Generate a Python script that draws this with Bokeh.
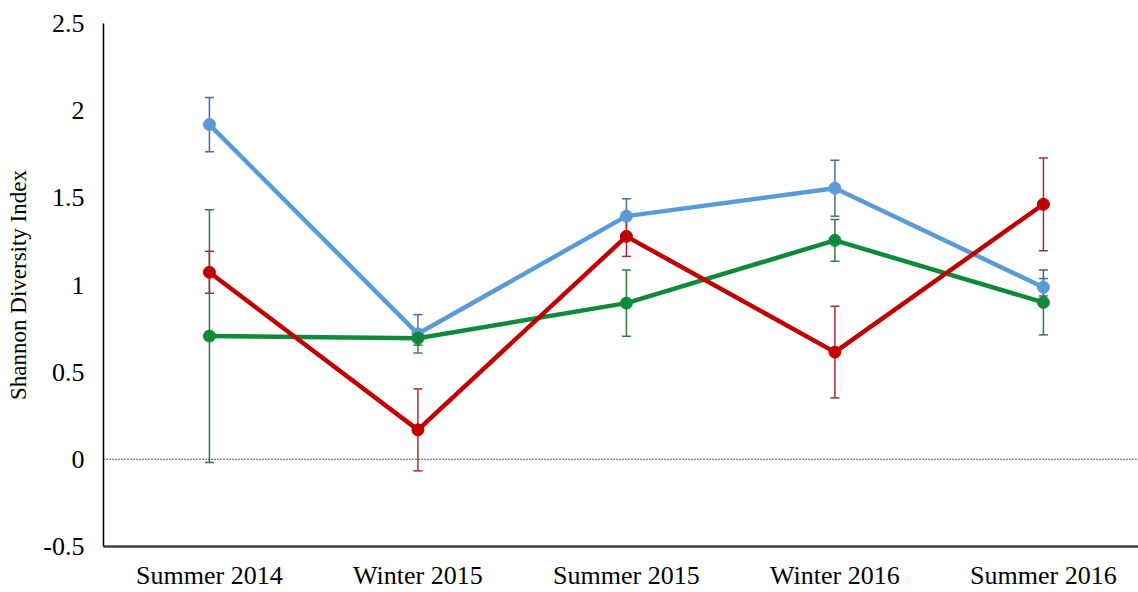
from bokeh.plotting import figure
from bokeh.models import Range1d, FixedTicker, Span, Whisker, ColumnDataSource, TeeHead
from bokeh.embed import file_html
from bokeh.resources import INLINE

categories = ["Summer 2014", "Winter 2015", "Summer 2015", "Winter 2016", "Summer 2016"]
blue_vals = [1.92, 0.72, 1.395, 1.555, 0.987]
blue_err = [0.155, 0.11, 0.10, 0.16, 0.05]
green_vals = [0.707, 0.695, 0.896, 1.256, 0.90]
green_err = [0.725, 0.04, 0.19, 0.12, 0.186]
red_vals = [1.073, 0.169, 1.279, 0.615, 1.463]
red_err = [0.12, 0.235, 0.115, 0.263, 0.266]
y_ticks = [-0.5, 0, 0.5, 1, 1.5, 2, 2.5]

series = [
    (blue_vals, blue_err, "#5B9BD5", "#41719C"),
    (green_vals, green_err, "#0E8A3A", "#2E7D4A"),
    (red_vals, red_err, "#C00000", "#B02A35"),
]

xs = list(range(len(categories)))

p = figure(width=1138, height=592, output_backend="svg", toolbar_location=None,
           x_range=Range1d(-0.508, 4.456), y_range=Range1d(-0.5, 2.5))
p.min_border_left = 103
p.min_border_right = 0
p.min_border_top = 23
p.min_border_bottom = 45
p.outline_line_color = None
p.grid.visible = False
p.background_fill_color = "white"
p.border_fill_color = "white"

font = "Liberation Serif"

p.xaxis.ticker = FixedTicker(ticks=xs)
p.xaxis.major_label_overrides = {i: c for i, c in enumerate(categories)}
p.yaxis.ticker = FixedTicker(ticks=y_ticks)
p.yaxis.major_label_overrides = {t: ("%g" % t) for t in y_ticks}

for ax in (p.xaxis, p.yaxis):
    ax.major_tick_line_color = None
    ax.minor_tick_line_color = None
    ax.major_tick_in = 0
    ax.major_tick_out = 0
    ax.major_label_text_font = font
    ax.major_label_text_font_size = "26px"
    ax.major_label_text_color = "#000000"

p.xaxis.axis_line_color = "#404040"
p.xaxis.axis_line_width = 2.5
p.xaxis.major_label_standoff = 14
p.yaxis.axis_line_color = "#000000"
p.yaxis.axis_line_width = 1.5
p.yaxis.major_label_standoff = 19
p.yaxis.axis_label = "Shannon Diversity Index"
p.yaxis.axis_label_text_font = font
p.yaxis.axis_label_text_font_style = "normal"
p.yaxis.axis_label_text_font_size = "23px"
p.yaxis.axis_label_text_color = "#000000"
p.yaxis.axis_label_standoff = 9

p.add_layout(Span(location=0, dimension="width", line_color="black",
                  line_width=1.2, line_dash="1 2"))

for vals, errs, col, ecol in series:
    src = ColumnDataSource(dict(x=xs, y=vals,
                                lo=[v - e for v, e in zip(vals, errs)],
                                hi=[v + e for v, e in zip(vals, errs)]))
    w = Whisker(base="x", lower="lo", upper="hi", source=src,
                line_color=ecol, line_width=1.5,
                upper_head=TeeHead(size=9, line_color=ecol, line_width=1.5),
                lower_head=TeeHead(size=9, line_color=ecol, line_width=1.5))
    p.add_layout(w)

for vals, errs, col, ecol in series:
    src = ColumnDataSource(dict(x=xs, y=vals))
    p.line("x", "y", source=src, line_color=col, line_width=4.5)
    p.scatter("x", "y", source=src, size=12, fill_color=col, line_color=col)

open("out.html", "w").write(file_html(p, INLINE))
